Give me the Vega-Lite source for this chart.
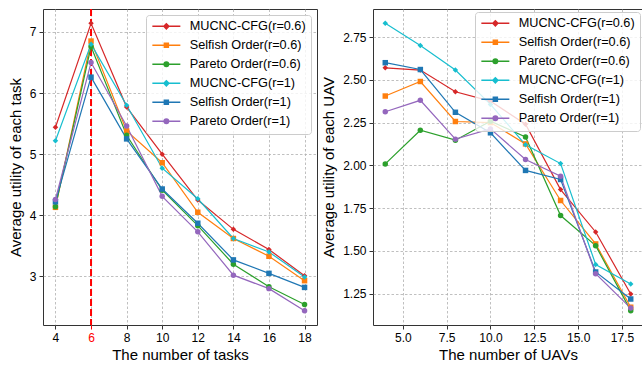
{
  "$schema": "https://vega.github.io/schema/vega-lite/v6.json",
  "padding": {"left": 7, "top": 7, "right": 0, "bottom": 2},
  "autosize": {"type": "pad"},
  "bounds": "flush",
  "spacing": 56,
  "config": {
    "font": "Liberation Sans",
    "view": {"stroke": "#333333", "strokeWidth": 1},
    "axis": {
      "domain": false,
      "grid": true,
      "gridColor": "#b0b0b0",
      "gridDash": [2.5, 2],
      "gridWidth": 0.8,
      "tickColor": "#333333",
      "tickSize": 4,
      "tickWidth": 1,
      "labelFont": "Liberation Sans",
      "labelFontSize": 12,
      "labelColor": "#000000",
      "labelPadding": 3,
      "labelOverlap": false,
      "titleFont": "Liberation Sans",
      "titleFontSize": 15,
      "titleFontWeight": "normal",
      "titleColor": "#000000"
    },
    "legend": {
      "orient": "top-right",
      "offset": 6,
      "labelFont": "Liberation Sans",
      "labelFontSize": 12.7,
      "labelColor": "#000000",
      "symbolSize": 100,
      "symbolOffset": 9,
      "labelOffset": 17,
      "rowPadding": 5,
      "padding": 5,
      "fillColor": "rgba(255,255,255,0.8)",
      "strokeColor": "#cccccc",
      "cornerRadius": 3,
      "symbolStrokeWidth": 1.5
    }
  },
  "datasets": {
    "tasks": [
      {"x": 4, "series": "MUCNC-CFG(r=0.6)", "y": 5.44},
      {"x": 6, "series": "MUCNC-CFG(r=0.6)", "y": 7.14},
      {"x": 8, "series": "MUCNC-CFG(r=0.6)", "y": 5.77},
      {"x": 10, "series": "MUCNC-CFG(r=0.6)", "y": 5.0},
      {"x": 12, "series": "MUCNC-CFG(r=0.6)", "y": 4.25},
      {"x": 14, "series": "MUCNC-CFG(r=0.6)", "y": 3.77},
      {"x": 16, "series": "MUCNC-CFG(r=0.6)", "y": 3.44},
      {"x": 18, "series": "MUCNC-CFG(r=0.6)", "y": 3.01},
      {"x": 4, "series": "Selfish Order(r=0.6)", "y": 4.13},
      {"x": 6, "series": "Selfish Order(r=0.6)", "y": 6.85},
      {"x": 8, "series": "Selfish Order(r=0.6)", "y": 5.38},
      {"x": 10, "series": "Selfish Order(r=0.6)", "y": 4.86},
      {"x": 12, "series": "Selfish Order(r=0.6)", "y": 4.05},
      {"x": 14, "series": "Selfish Order(r=0.6)", "y": 3.62},
      {"x": 16, "series": "Selfish Order(r=0.6)", "y": 3.33},
      {"x": 18, "series": "Selfish Order(r=0.6)", "y": 2.93},
      {"x": 4, "series": "Pareto Order(r=0.6)", "y": 4.14},
      {"x": 6, "series": "Pareto Order(r=0.6)", "y": 6.76},
      {"x": 8, "series": "Pareto Order(r=0.6)", "y": 5.31},
      {"x": 10, "series": "Pareto Order(r=0.6)", "y": 4.41},
      {"x": 12, "series": "Pareto Order(r=0.6)", "y": 3.83},
      {"x": 14, "series": "Pareto Order(r=0.6)", "y": 3.2},
      {"x": 16, "series": "Pareto Order(r=0.6)", "y": 2.83},
      {"x": 18, "series": "Pareto Order(r=0.6)", "y": 2.54},
      {"x": 4, "series": "MUCNC-CFG(r=1)", "y": 5.22},
      {"x": 6, "series": "MUCNC-CFG(r=1)", "y": 6.8},
      {"x": 8, "series": "MUCNC-CFG(r=1)", "y": 5.8},
      {"x": 10, "series": "MUCNC-CFG(r=1)", "y": 4.77},
      {"x": 12, "series": "MUCNC-CFG(r=1)", "y": 4.27},
      {"x": 14, "series": "MUCNC-CFG(r=1)", "y": 3.62},
      {"x": 16, "series": "MUCNC-CFG(r=1)", "y": 3.4},
      {"x": 18, "series": "MUCNC-CFG(r=1)", "y": 2.99},
      {"x": 4, "series": "Selfish Order(r=1)", "y": 4.22},
      {"x": 6, "series": "Selfish Order(r=1)", "y": 6.26},
      {"x": 8, "series": "Selfish Order(r=1)", "y": 5.25},
      {"x": 10, "series": "Selfish Order(r=1)", "y": 4.43},
      {"x": 12, "series": "Selfish Order(r=1)", "y": 3.87},
      {"x": 14, "series": "Selfish Order(r=1)", "y": 3.27},
      {"x": 16, "series": "Selfish Order(r=1)", "y": 3.05},
      {"x": 18, "series": "Selfish Order(r=1)", "y": 2.82},
      {"x": 4, "series": "Pareto Order(r=1)", "y": 4.26},
      {"x": 6, "series": "Pareto Order(r=1)", "y": 6.5},
      {"x": 8, "series": "Pareto Order(r=1)", "y": 5.46},
      {"x": 10, "series": "Pareto Order(r=1)", "y": 4.31},
      {"x": 12, "series": "Pareto Order(r=1)", "y": 3.73},
      {"x": 14, "series": "Pareto Order(r=1)", "y": 3.02},
      {"x": 16, "series": "Pareto Order(r=1)", "y": 2.8},
      {"x": 18, "series": "Pareto Order(r=1)", "y": 2.44}
    ],
    "uavs": [
      {"x": 4, "series": "MUCNC-CFG(r=0.6)", "y": 2.57},
      {"x": 6, "series": "MUCNC-CFG(r=0.6)", "y": 2.557},
      {"x": 8, "series": "MUCNC-CFG(r=0.6)", "y": 2.43},
      {"x": 10, "series": "MUCNC-CFG(r=0.6)", "y": 2.375},
      {"x": 12, "series": "MUCNC-CFG(r=0.6)", "y": 2.24},
      {"x": 14, "series": "MUCNC-CFG(r=0.6)", "y": 1.858},
      {"x": 16, "series": "MUCNC-CFG(r=0.6)", "y": 1.61},
      {"x": 18, "series": "MUCNC-CFG(r=0.6)", "y": 1.247},
      {"x": 4, "series": "Selfish Order(r=0.6)", "y": 2.405},
      {"x": 6, "series": "Selfish Order(r=0.6)", "y": 2.49},
      {"x": 8, "series": "Selfish Order(r=0.6)", "y": 2.256},
      {"x": 10, "series": "Selfish Order(r=0.6)", "y": 2.25},
      {"x": 12, "series": "Selfish Order(r=0.6)", "y": 2.125},
      {"x": 14, "series": "Selfish Order(r=0.6)", "y": 1.794},
      {"x": 16, "series": "Selfish Order(r=0.6)", "y": 1.54},
      {"x": 18, "series": "Selfish Order(r=0.6)", "y": 1.17},
      {"x": 4, "series": "Pareto Order(r=0.6)", "y": 2.008},
      {"x": 6, "series": "Pareto Order(r=0.6)", "y": 2.205},
      {"x": 8, "series": "Pareto Order(r=0.6)", "y": 2.147},
      {"x": 10, "series": "Pareto Order(r=0.6)", "y": 2.258},
      {"x": 12, "series": "Pareto Order(r=0.6)", "y": 2.166},
      {"x": 14, "series": "Pareto Order(r=0.6)", "y": 1.706},
      {"x": 16, "series": "Pareto Order(r=0.6)", "y": 1.53},
      {"x": 18, "series": "Pareto Order(r=0.6)", "y": 1.15},
      {"x": 4, "series": "MUCNC-CFG(r=1)", "y": 2.83},
      {"x": 6, "series": "MUCNC-CFG(r=1)", "y": 2.7},
      {"x": 8, "series": "MUCNC-CFG(r=1)", "y": 2.557},
      {"x": 10, "series": "MUCNC-CFG(r=1)", "y": 2.356},
      {"x": 12, "series": "MUCNC-CFG(r=1)", "y": 2.12},
      {"x": 14, "series": "MUCNC-CFG(r=1)", "y": 2.01},
      {"x": 16, "series": "MUCNC-CFG(r=1)", "y": 1.42},
      {"x": 18, "series": "MUCNC-CFG(r=1)", "y": 1.306},
      {"x": 4, "series": "Selfish Order(r=1)", "y": 2.6},
      {"x": 6, "series": "Selfish Order(r=1)", "y": 2.56},
      {"x": 8, "series": "Selfish Order(r=1)", "y": 2.31},
      {"x": 10, "series": "Selfish Order(r=1)", "y": 2.19},
      {"x": 12, "series": "Selfish Order(r=1)", "y": 1.97},
      {"x": 14, "series": "Selfish Order(r=1)", "y": 1.917},
      {"x": 16, "series": "Selfish Order(r=1)", "y": 1.376},
      {"x": 18, "series": "Selfish Order(r=1)", "y": 1.218},
      {"x": 4, "series": "Pareto Order(r=1)", "y": 2.313},
      {"x": 6, "series": "Pareto Order(r=1)", "y": 2.38},
      {"x": 8, "series": "Pareto Order(r=1)", "y": 2.153},
      {"x": 10, "series": "Pareto Order(r=1)", "y": 2.213},
      {"x": 12, "series": "Pareto Order(r=1)", "y": 2.034},
      {"x": 14, "series": "Pareto Order(r=1)", "y": 1.936},
      {"x": 16, "series": "Pareto Order(r=1)", "y": 1.366},
      {"x": 18, "series": "Pareto Order(r=1)", "y": 1.165}
    ]
  },
  "resolve": {
    "scale": {"color": "independent", "shape": "independent"},
    "legend": {"color": "independent", "shape": "independent"}
  },
  "hconcat": [
    {
      "width": 274,
      "height": 316,
      "data": {"name": "tasks"},
      "encoding": {
        "x": {"field": "x", "type": "quantitative",
          "scale": {"domain": [3.3, 18.7], "nice": false, "zero": false},
          "axis": {"title": "The number of tasks", "values": [4, 6, 8, 10, 12, 14, 16, 18], "format": "d", "titlePadding": 4,
            "labelColor": {"condition": {"test": "datum.value === 6", "value": "#ff0000"}, "value": "#000000"},
            "tickColor": {"condition": {"test": "datum.value === 6", "value": "#ff0000"}, "value": "#333333"}}}
      },
      "layer": [
        {
          "data": {"values": [{"x": 6}]},
          "mark": {"type": "rule", "color": "#ff0000", "strokeDash": [7, 3], "strokeWidth": 2},
          "encoding": {}
        },
        {
          "mark": {"type": "line", "strokeWidth": 1.2},
          "encoding": {
            "y": {"field": "y", "type": "quantitative"},
            "color": {"field": "series", "type": "nominal",
              "scale": {"domain": ["MUCNC-CFG(r=0.6)", "Selfish Order(r=0.6)", "Pareto Order(r=0.6)", "MUCNC-CFG(r=1)", "Selfish Order(r=1)", "Pareto Order(r=1)"],
                        "range": ["#d62728", "#ff7f0e", "#2ca02c", "#17becf", "#1f77b4", "#9467bd"]},
              "legend": {"title": null,
                "encode": {"symbols": {"update": {
                  "shape": {"signal": "indexof(datum.value, 'MUCNC') >= 0 ? 'M-2.8,0H2.8M0,-0.5L0.5,0L0,0.5L-0.5,0Z' : (indexof(datum.value, 'Selfish') >= 0 ? 'M-2.8,0H2.8M-0.4,-0.4H0.4V0.4H-0.4Z' : 'M-2.8,0H2.8M-0.45,0A0.45,0.45 0 1,0 0.45,0A0.45,0.45 0 1,0 -0.45,0Z')"},
                  "stroke": {"signal": "datum.value === 'MUCNC-CFG(r=0.6)' ? '#d62728' : datum.value === 'Selfish Order(r=0.6)' ? '#ff7f0e' : datum.value === 'Pareto Order(r=0.6)' ? '#2ca02c' : datum.value === 'MUCNC-CFG(r=1)' ? '#17becf' : datum.value === 'Selfish Order(r=1)' ? '#1f77b4' : '#9467bd'"},
                  "fill": {"signal": "datum.value === 'MUCNC-CFG(r=0.6)' ? '#d62728' : datum.value === 'Selfish Order(r=0.6)' ? '#ff7f0e' : datum.value === 'Pareto Order(r=0.6)' ? '#2ca02c' : datum.value === 'MUCNC-CFG(r=1)' ? '#17becf' : datum.value === 'Selfish Order(r=1)' ? '#1f77b4' : '#9467bd'"},
                  "strokeWidth": {"value": 1.5},
                  "opacity": {"value": 1}
                }}}}}
          }
        },
        {
          "mark": {"type": "point", "filled": true, "opacity": 1, "size": 30},
          "encoding": {
            "y": {"field": "y", "type": "quantitative",
              "scale": {"domain": [2.205, 7.375], "nice": false, "zero": false},
              "axis": {"title": "Average utility of each task", "values": [3, 4, 5, 6, 7], "format": "d", "titlePadding": 6}},
            "color": {"field": "series", "type": "nominal",
              "scale": {"domain": ["MUCNC-CFG(r=0.6)", "Selfish Order(r=0.6)", "Pareto Order(r=0.6)", "MUCNC-CFG(r=1)", "Selfish Order(r=1)", "Pareto Order(r=1)"],
                        "range": ["#d62728", "#ff7f0e", "#2ca02c", "#17becf", "#1f77b4", "#9467bd"]},
              "legend": {"title": null,
                "encode": {"symbols": {"update": {
                  "shape": {"signal": "indexof(datum.value, 'MUCNC') >= 0 ? 'M-2.8,0H2.8M0,-0.5L0.5,0L0,0.5L-0.5,0Z' : (indexof(datum.value, 'Selfish') >= 0 ? 'M-2.8,0H2.8M-0.4,-0.4H0.4V0.4H-0.4Z' : 'M-2.8,0H2.8M-0.45,0A0.45,0.45 0 1,0 0.45,0A0.45,0.45 0 1,0 -0.45,0Z')"},
                  "stroke": {"signal": "datum.value === 'MUCNC-CFG(r=0.6)' ? '#d62728' : datum.value === 'Selfish Order(r=0.6)' ? '#ff7f0e' : datum.value === 'Pareto Order(r=0.6)' ? '#2ca02c' : datum.value === 'MUCNC-CFG(r=1)' ? '#17becf' : datum.value === 'Selfish Order(r=1)' ? '#1f77b4' : '#9467bd'"},
                  "fill": {"signal": "datum.value === 'MUCNC-CFG(r=0.6)' ? '#d62728' : datum.value === 'Selfish Order(r=0.6)' ? '#ff7f0e' : datum.value === 'Pareto Order(r=0.6)' ? '#2ca02c' : datum.value === 'MUCNC-CFG(r=1)' ? '#17becf' : datum.value === 'Selfish Order(r=1)' ? '#1f77b4' : '#9467bd'"},
                  "strokeWidth": {"value": 1.5},
                  "opacity": {"value": 1}
                }}}}},
            "shape": {"field": "series", "type": "nominal",
              "scale": {"domain": ["Pareto Order(r=1)", "Selfish Order(r=1)", "MUCNC-CFG(r=1)", "Pareto Order(r=0.6)", "Selfish Order(r=0.6)", "MUCNC-CFG(r=0.6)"],
                        "range": ["circle", "square", "diamond", "circle", "square", "diamond"]},
              "legend": null}
          }
        }
      ]
    },
    {
      "width": 270,
      "height": 316,
      "data": {"name": "uavs"},
      "encoding": {
        "x": {"field": "x", "type": "quantitative",
          "scale": {"domain": [3.3, 18.7], "nice": false, "zero": false},
          "axis": {"title": "The number of UAVs", "values": [5, 7.5, 10, 12.5, 15, 17.5], "format": ".1f", "titlePadding": 4}}
      },
      "layer": [
        {
          "mark": {"type": "line", "strokeWidth": 1.2},
          "encoding": {
            "y": {"field": "y", "type": "quantitative"},
            "color": {"field": "series", "type": "nominal",
              "scale": {"domain": ["MUCNC-CFG(r=0.6)", "Selfish Order(r=0.6)", "Pareto Order(r=0.6)", "MUCNC-CFG(r=1)", "Selfish Order(r=1)", "Pareto Order(r=1)"],
                        "range": ["#d62728", "#ff7f0e", "#2ca02c", "#17becf", "#1f77b4", "#9467bd"]},
              "legend": {"title": null, "offset": 3,
                "encode": {"symbols": {"update": {
                  "shape": {"signal": "indexof(datum.value, 'MUCNC') >= 0 ? 'M-2.8,0H2.8M0,-0.5L0.5,0L0,0.5L-0.5,0Z' : (indexof(datum.value, 'Selfish') >= 0 ? 'M-2.8,0H2.8M-0.4,-0.4H0.4V0.4H-0.4Z' : 'M-2.8,0H2.8M-0.45,0A0.45,0.45 0 1,0 0.45,0A0.45,0.45 0 1,0 -0.45,0Z')"},
                  "stroke": {"signal": "datum.value === 'MUCNC-CFG(r=0.6)' ? '#d62728' : datum.value === 'Selfish Order(r=0.6)' ? '#ff7f0e' : datum.value === 'Pareto Order(r=0.6)' ? '#2ca02c' : datum.value === 'MUCNC-CFG(r=1)' ? '#17becf' : datum.value === 'Selfish Order(r=1)' ? '#1f77b4' : '#9467bd'"},
                  "fill": {"signal": "datum.value === 'MUCNC-CFG(r=0.6)' ? '#d62728' : datum.value === 'Selfish Order(r=0.6)' ? '#ff7f0e' : datum.value === 'Pareto Order(r=0.6)' ? '#2ca02c' : datum.value === 'MUCNC-CFG(r=1)' ? '#17becf' : datum.value === 'Selfish Order(r=1)' ? '#1f77b4' : '#9467bd'"},
                  "strokeWidth": {"value": 1.5},
                  "opacity": {"value": 1}
                }}}}}
          }
        },
        {
          "mark": {"type": "point", "filled": true, "opacity": 1, "size": 30},
          "encoding": {
            "y": {"field": "y", "type": "quantitative",
              "scale": {"domain": [1.066, 2.914], "nice": false, "zero": false},
              "axis": {"title": "Average utility of each UAV", "values": [1.25, 1.5, 1.75, 2.0, 2.25, 2.5, 2.75], "format": ".2f", "titlePadding": 6}},
            "color": {"field": "series", "type": "nominal",
              "scale": {"domain": ["MUCNC-CFG(r=0.6)", "Selfish Order(r=0.6)", "Pareto Order(r=0.6)", "MUCNC-CFG(r=1)", "Selfish Order(r=1)", "Pareto Order(r=1)"],
                        "range": ["#d62728", "#ff7f0e", "#2ca02c", "#17becf", "#1f77b4", "#9467bd"]},
              "legend": {"title": null, "offset": 3,
                "encode": {"symbols": {"update": {
                  "shape": {"signal": "indexof(datum.value, 'MUCNC') >= 0 ? 'M-2.8,0H2.8M0,-0.5L0.5,0L0,0.5L-0.5,0Z' : (indexof(datum.value, 'Selfish') >= 0 ? 'M-2.8,0H2.8M-0.4,-0.4H0.4V0.4H-0.4Z' : 'M-2.8,0H2.8M-0.45,0A0.45,0.45 0 1,0 0.45,0A0.45,0.45 0 1,0 -0.45,0Z')"},
                  "stroke": {"signal": "datum.value === 'MUCNC-CFG(r=0.6)' ? '#d62728' : datum.value === 'Selfish Order(r=0.6)' ? '#ff7f0e' : datum.value === 'Pareto Order(r=0.6)' ? '#2ca02c' : datum.value === 'MUCNC-CFG(r=1)' ? '#17becf' : datum.value === 'Selfish Order(r=1)' ? '#1f77b4' : '#9467bd'"},
                  "fill": {"signal": "datum.value === 'MUCNC-CFG(r=0.6)' ? '#d62728' : datum.value === 'Selfish Order(r=0.6)' ? '#ff7f0e' : datum.value === 'Pareto Order(r=0.6)' ? '#2ca02c' : datum.value === 'MUCNC-CFG(r=1)' ? '#17becf' : datum.value === 'Selfish Order(r=1)' ? '#1f77b4' : '#9467bd'"},
                  "strokeWidth": {"value": 1.5},
                  "opacity": {"value": 1}
                }}}}},
            "shape": {"field": "series", "type": "nominal",
              "scale": {"domain": ["Pareto Order(r=1)", "Selfish Order(r=1)", "MUCNC-CFG(r=1)", "Pareto Order(r=0.6)", "Selfish Order(r=0.6)", "MUCNC-CFG(r=0.6)"],
                        "range": ["circle", "square", "diamond", "circle", "square", "diamond"]},
              "legend": null}
          }
        }
      ]
    }
  ]
}
